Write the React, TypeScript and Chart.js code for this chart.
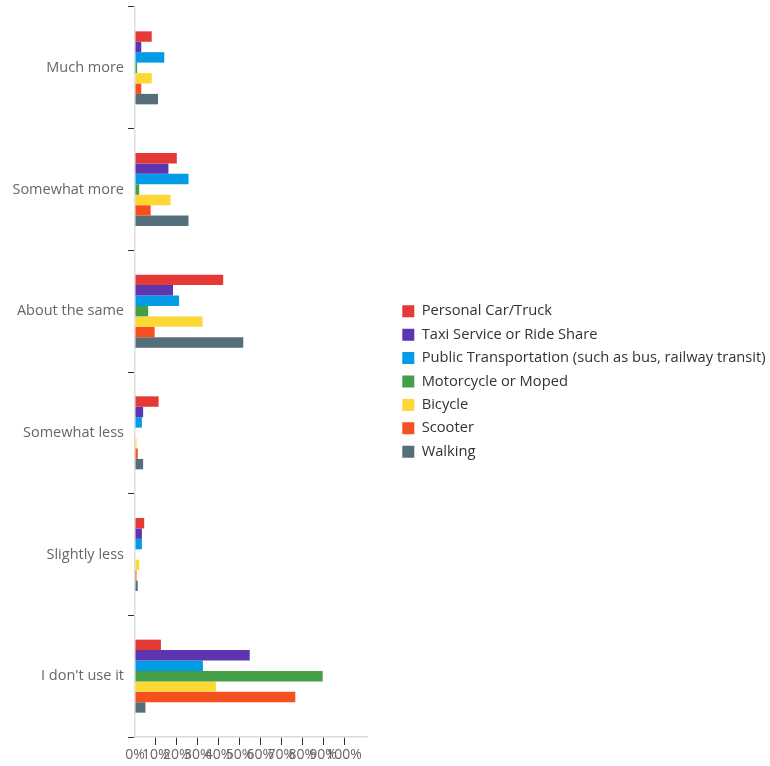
import React, { useEffect, useRef } from "react";
import { Chart, registerables } from "chart.js";

Chart.register(...registerables);

const categories = [
  "Much more",
  "Somewhat more",
  "About the same",
  "Somewhat less",
  "Slightly less",
  "I don't use it",
];

const seriesNames = [
  "Personal Car/Truck",
  "Taxi Service or Ride Share",
  "Public Transportation (such as bus, railway transit)",
  "Motorcycle or Moped",
  "Bicycle",
  "Scooter",
  "Walking",
];

const seriesColors = ["#e53935", "#5e35b1", "#039be5", "#43a047", "#fdd835", "#f4511e", "#546e7a"];

const personalCar = [8, 20, 42.2, 11.3, 4.4, 12.4];
const taxi = [3, 16, 18.2, 3.9, 3.3, 54.9];
const publicTransport = [14, 25.6, 21.1, 3.3, 3.3, 32.5];
const motorcycle = [1, 2, 6.3, 0, 0, 89.8];
const bicycle = [8, 17, 32.3, 0.7, 2.0, 38.7];
const scooter = [3, 7.5, 9.4, 1.3, 0.7, 76.7];
const walking = [11, 25.6, 51.8, 3.9, 1.3, 5.0];

const seriesValues = [personalCar, taxi, publicTransport, motorcycle, bicycle, scooter, walking];

const xTickValues = [0, 10, 20, 30, 40, 50, 60, 70, 80, 90, 100];
const xMax = 111;

const FONT = "'Open Sans', sans-serif";

// Legend placement tweaks: reserve a wider legend column, then shift the drawn legend.
const LEGEND_RESERVED_WIDTH = 403;
const LEGEND_SHIFT_X = 26.6;
const LEGEND_SHIFT_Y = -5;

const legendPlacement = {
  id: "legendPlacement",
  beforeLayout(chart: any) {
    const legend = chart.legend;
    if (legend && !legend.__patched) {
      const origFit = legend.fit;
      legend.fit = function () {
        origFit.call(this);
        this.width = LEGEND_RESERVED_WIDTH;
      };
      legend.__patched = true;
    }
  },
  afterLayout(chart: any) {
    const legend = chart.legend;
    if (!legend) return;
    legend.left += LEGEND_SHIFT_X;
    legend.top += LEGEND_SHIFT_Y;
    legend.bottom += LEGEND_SHIFT_Y;
    legend.width = legend.right - legend.left;
  },
};

export default function App() {
  const canvasRef = useRef<HTMLCanvasElement | null>(null);

  useEffect(() => {
    if (!canvasRef.current) return;
    Chart.defaults.font.family = FONT;
    const chart = new Chart(canvasRef.current, {
      type: "bar",
      data: {
        labels: categories,
        datasets: seriesNames.map((name, i) => ({
          label: name,
          data: seriesValues[i],
          backgroundColor: seriesColors[i],
          borderWidth: 0,
          categoryPercentage: 0.6,
          barPercentage: 1.0,
        })),
      },
      options: {
        indexAxis: "y",
        responsive: false,
        maintainAspectRatio: false,
        animation: false,
        layout: { padding: { top: 7, right: 0, left: 0, bottom: 0 } },
        plugins: {
          legend: {
            position: "right",
            maxWidth: 420,
            labels: {
              boxWidth: 12,
              boxHeight: 12,
              padding: 8.7,
              color: "#333",
              font: { size: 14.7, family: FONT },
            },
          },
          tooltip: { enabled: false },
        },
        scales: {
          x: {
            type: "linear",
            min: 0,
            max: xMax,
            afterBuildTicks: (scale: any) => {
              scale.ticks = xTickValues.map((v) => ({ value: v }));
            },
            afterFit: (scale: any) => {
              scale.height = 29;
            },
            grid: {
              drawOnChartArea: false,
              drawTicks: true,
              tickLength: 8,
              tickColor: (ctx: any) => (ctx.tick && ctx.tick.value === 0 ? "rgba(0,0,0,0)" : "#333"),
            },
            border: { color: "#dddddd", width: 1.5 },
            ticks: {
              autoSkip: false,
              maxRotation: 0,
              minRotation: 0,
              padding: 2,
              color: "#666",
              font: { size: 14, family: FONT },
              callback: (v: any) => v + "%",
            },
          },
          y: {
            type: "category",
            afterFit: (scale: any) => {
              scale.width = 135;
              scale.paddingTop = 0;
              scale.paddingBottom = 0;
            },
            grid: {
              offset: true,
              drawOnChartArea: false,
              drawTicks: true,
              tickLength: 7,
              tickColor: (ctx: any) => (ctx.index === categories.length ? "rgba(0,0,0,0)" : "#333"),
            },
            border: { color: "#dddddd", width: 1.5 },
            ticks: {
              padding: 4,
              color: "#666",
              font: { size: 14.5, family: FONT },
            },
          },
        },
      },
      plugins: [legendPlacement],
    });
    return () => chart.destroy();
  }, []);

  return (
    <div style={{ position: "absolute", left: 0, top: 0, width: 770, height: 766 }}>
      <canvas ref={canvasRef} width={770} height={766} style={{ width: 770, height: 766 }} />
    </div>
  );
}
